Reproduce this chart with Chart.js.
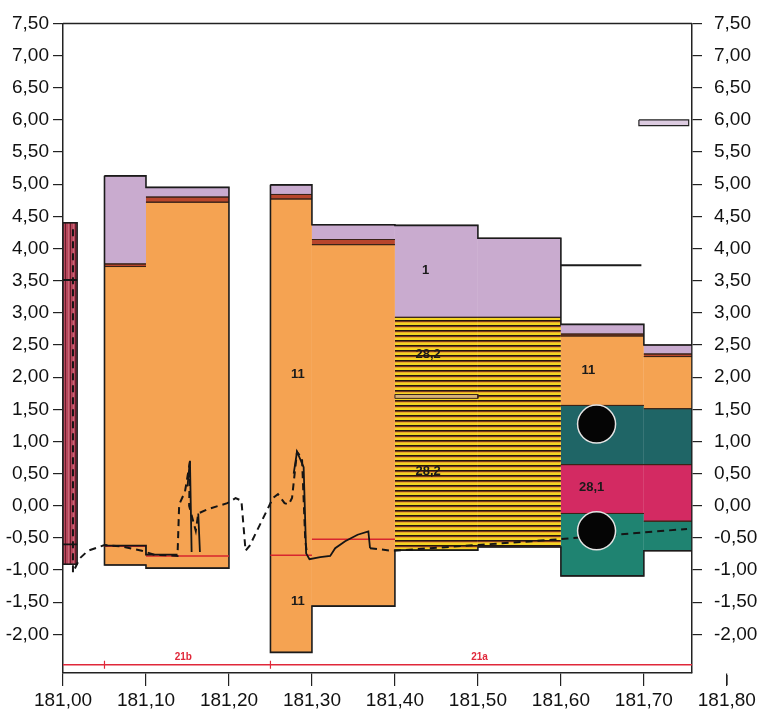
<!DOCTYPE html>
<html>
<head>
<meta charset="utf-8">
<script src="https://cdn.jsdelivr.net/npm/chart.js@4.4.1/dist/chart.umd.min.js"></script>
<style>
  html, body { margin: 0; padding: 0; background: #fff; }
  #wrap { width: 757px; height: 721px; }
</style>
</head>
<body>
<div id="wrap"><canvas id="profile"></canvas></div>
<script>
// chainage of each borehole column (km)
const colStart = [181.000, 181.050, 181.100, 181.250, 181.300, 181.400, 181.500, 181.600, 181.700];
const colEnd   = [181.017, 181.100, 181.200, 181.300, 181.400, 181.500, 181.600, 181.700, 181.758];

// layers per column: [top, bottom] in m, null = not present
const layerBrick = [[4.40, -0.91], null, null, null, null, null, null, null, null];
const layer1     = [null, [5.13, 3.76], [4.95, 4.80], [4.99, 4.84], [4.37, 4.14], [4.36, 2.93], [4.16, 2.93], [2.82, 2.67], [2.50, 2.36]];
const layerBand  = [null, [3.76, 3.72], [4.80, 4.72], [4.84, 4.77], [4.14, 4.06], null, null, [2.67, 2.64], [2.36, 2.32]];
const layer11    = [null, [3.72, -0.92], [4.72, -0.97], [4.77, -2.28], [4.06, -1.56], null, null, [2.64, 1.56], [2.32, 1.51]];
const layer282   = [null, null, null, null, null, [2.93, -0.69], [2.93, -0.64], null, null];
const layerGreen = [null, null, null, null, null, null, null, [1.56, 0.64], [1.51, 0.64]];
const layer281   = [null, null, null, null, null, null, null, [0.64, -0.12], [0.64, -0.24]];
const layerTeal  = [null, null, null, null, null, null, null, [-0.12, -1.09], [-0.24, -0.70]];

// small lens inside 28,2 and the box near 6 m
const lensX = [181.400, 181.500];
const lensY = [1.73, 1.67];
const boxX = [181.694, 181.754];
const boxY = [6.00, 5.91];

// level lines
const levelX = [181.600, 181.697];
const levelY = [3.74, 3.74];

const dashX = [181.012, 181.012, 181.020, 181.030, 181.050, 181.070, 181.095, 181.110, 181.138, 181.140, 181.147, 181.153, 181.152, 181.160,
               181.163, 181.175, 181.198, 181.208, 181.215, 181.220, 181.225, 181.253, 181.259, 181.267, 181.272, 181.276, 181.282, 181.288,
               181.292, 181.294, null, 181.370, 181.397, 181.589, 181.752];
const dashY = [4.30, -1.04, -0.82, -0.70, -0.61, -0.63, -0.70, -0.76, -0.78, 0.02, 0.22, 0.69, 0.00, -0.39,
               -0.12, -0.05, 0.04, 0.12, 0.08, -0.70, -0.62, 0.12, 0.18, 0.04, 0.02, 0.12, 0.84, 0.74,
               -0.55, -0.74, null, -0.66, -0.70, -0.53, -0.36];

const solidX = [181.000, 181.017, null, 181.000, 181.017, null, 181.050, 181.100, 181.100, 181.138, null, 181.150, 181.153, 181.155, null,
                181.163, 181.165, null, 181.278, 181.282, 181.290, 181.293, 181.297, 181.310, 181.322, 181.328, 181.340, 181.355, 181.368, 181.370];
const solidY = [3.51, 3.51, null, -0.60, -0.60, null, -0.62, -0.62, -0.76, -0.76, null, 0.30, 0.70, -0.72, null,
                -0.12, -0.72, null, 0.50, 0.84, 0.60, -0.74, -0.83, -0.80, -0.78, -0.66, -0.55, -0.45, -0.40, -0.66];

const redX = [181.050, 181.100, null, 181.100, 181.200, null, 181.250, 181.300, null, 181.300, 181.400];
const redY = [-0.63, -0.63, null, -0.78, -0.78, null, -0.77, -0.77, null, -0.52, -0.52];

// section line at the bottom
const sectionX = [181.000, 181.758];
const sectionY = [-2.47, -2.47];
const sectionMarks = [181.05, 181.25];
const sectionNames = ['21b', '21a'];
const sectionNameX = [181.145, 181.502];
const sectionNameY = -2.36;

// black sample dots
const dotX = [181.643, 181.643];
const dotY = [1.27, -0.39];

// layer labels
const labelText = ['1', '11', '11', '28,2', '28,2', '11', '28,1'];
const labelX = [181.437, 181.283, 181.283, 181.440, 181.440, 181.633, 181.637];
const labelY = [3.66, 2.04, -1.48, 2.36, 0.53, 2.11, 0.29];

const xTicks = [181.0, 181.1, 181.2, 181.3, 181.4, 181.5, 181.6, 181.7, 181.8];
const yTicks = [-2, -1.5, -1, -0.5, 0, 0.5, 1, 1.5, 2, 2.5, 3, 3.5, 4, 4.5, 5, 5.5, 6, 6.5, 7, 7.5];

// patterns
function hatch(base, rows, w, h) {
  const c = document.createElement('canvas');
  c.width = w; c.height = h;
  const g = c.getContext('2d');
  g.fillStyle = base; g.fillRect(0, 0, w, h);
  rows.forEach(r => { g.fillStyle = r[0]; g.fillRect(r[1], r[2], r[3], r[4]); });
  return g.createPattern(c, 'repeat');
}
const yellowStripes = hatch('#f4d422', [['#231510', 0, 0, 4, 1], ['#7a3a1c', 0, 1, 4, 1], ['#e9a92a', 0, 2, 4, 1]], 4, 5);
const brickStripes = hatch('#b6475b', [['#6d1b2c', 0, 0, 1, 4], ['#c76677', 3, 0, 1, 4]], 5, 4);

const layerStyle = [
  { spans: layerBrick, fill: brickStripes },
  { spans: layer1, fill: '#c9abcf' },
  { spans: layerBand, fill: '#b8462c' },
  { spans: layer11, fill: '#f5a352' },
  { spans: layer282, fill: yellowStripes },
  { spans: layerGreen, fill: '#1f6566' },
  { spans: layer281, fill: '#d32a62' },
  { spans: layerTeal, fill: '#1f8371' }
];

const pts = (xs, ys) => xs.map((x, i) => ({ x: x, y: ys[i] }));
const rect = (x0, x1, top, bot) => [
  { x: x0, y: top }, { x: x1, y: top }, { x: x1, y: bot }, { x: x0, y: bot }, { x: x0, y: top }
];
const gap = { x: null, y: null };

let datasets = [];
let edges = [];

// layer fills, and their top/bottom boundaries as one line set
layerStyle.forEach(l => {
  l.spans.forEach((s, i) => {
    if (!s) return;
    datasets.push({
      data: rect(colStart[i], colEnd[i], s[0], s[1]),
      fill: 'shape', backgroundColor: l.fill,
      borderWidth: 0, pointRadius: 0, order: 10
    });
    edges.push({ x: colStart[i], y: s[0] }, { x: colEnd[i], y: s[0] }, gap,
               { x: colStart[i], y: s[1] }, { x: colEnd[i], y: s[1] }, gap);
  });
});
datasets.push({ data: edges, fill: false, borderColor: '#3a2418', borderWidth: 1, pointRadius: 0, order: 4 });

// outer outline of each group of touching columns
const colTop = colStart.map((_, i) => Math.max(...layerStyle.filter(l => l.spans[i]).map(l => l.spans[i][0])));
const colBot = colStart.map((_, i) => Math.min(...layerStyle.filter(l => l.spans[i]).map(l => l.spans[i][1])));
let groups = [];
colStart.forEach((x, i) => {
  if (i > 0 && Math.abs(colEnd[i - 1] - x) < 1e-9) groups[groups.length - 1].push(i);
  else groups.push([i]);
});
groups.forEach(g => {
  let outline = [];
  g.forEach(i => { outline.push({ x: colStart[i], y: colTop[i] }, { x: colEnd[i], y: colTop[i] }); });
  g.slice().reverse().forEach(i => { outline.push({ x: colEnd[i], y: colBot[i] }, { x: colStart[i], y: colBot[i] }); });
  outline.push(outline[0]);
  datasets.push({ data: outline, fill: false, borderColor: '#1b1b1b', borderWidth: 1.6, pointRadius: 0, order: 3 });
});

datasets.push({ data: rect(lensX[0], lensX[1], lensY[0], lensY[1]), fill: 'shape', backgroundColor: '#d9b27a',
  borderColor: '#3a2418', borderWidth: 1, pointRadius: 0, order: 2 });
datasets.push({ data: rect(boxX[0], boxX[1], boxY[0], boxY[1]), fill: 'shape', backgroundColor: '#dccbe0',
  borderColor: '#222', borderWidth: 1.2, pointRadius: 0, order: 2 });
datasets.push({ data: pts(levelX, levelY), borderColor: '#1b1b1b', borderWidth: 2, pointRadius: 0, order: 2 });
datasets.push({ data: pts(redX, redY), borderColor: '#d8262e', borderWidth: 1.5, pointRadius: 0, order: 2 });
datasets.push({ data: pts(solidX, solidY), borderColor: '#151515', borderWidth: 1.8, pointRadius: 0, order: 1 });
datasets.push({ data: pts(dashX, dashY), borderColor: '#151515', borderWidth: 2, borderDash: [7, 5], pointRadius: 0, order: 1 });
datasets.push({ data: pts(sectionX, sectionY), borderColor: '#e0283a', borderWidth: 1.5, pointRadius: 0, order: 2 });
datasets.push({ type: 'scatter', data: sectionMarks.map(x => ({ x: x, y: sectionY[0] })), pointStyle: 'line', rotation: 90,
  pointRadius: 4, borderColor: '#e0283a', borderWidth: 1.2, order: 2 });
datasets.push({ type: 'scatter', data: pts(dotX, dotY), pointRadius: 19, backgroundColor: '#050505',
  borderColor: '#e4e4e4', borderWidth: 1.5, order: 0 });

const fmt = v => Number(v).toFixed(2).replace('.', ',');
const font = '"Liberation Sans", Arial, sans-serif';

const extras = {
  id: 'extras',
  afterDatasetsDraw(chart) {
    const { ctx, scales: { x, y } } = chart;
    ctx.save();
    ctx.textAlign = 'center';
    ctx.textBaseline = 'middle';
    ctx.font = 'bold 13px ' + font;
    ctx.fillStyle = '#1a1a1a';
    labelText.forEach((t, i) => ctx.fillText(t, x.getPixelForValue(labelX[i]), y.getPixelForValue(labelY[i])));
    ctx.font = 'bold 10px ' + font;
    ctx.fillStyle = '#e0283a';
    sectionNames.forEach((t, i) => ctx.fillText(t, x.getPixelForValue(sectionNameX[i]), y.getPixelForValue(sectionNameY)));
    ctx.restore();
  },
  afterDraw(chart) {
    const { ctx, chartArea: a, scales: { x } } = chart;
    ctx.save();
    ctx.strokeStyle = '#222';
    ctx.lineWidth = 1.5;
    ctx.beginPath();
    ctx.moveTo(a.left, a.top);
    ctx.lineTo(a.right, a.top);
    // lone tick for the last label, outside the frame
    const px = x.getPixelForValue(xTicks[xTicks.length - 1]);
    ctx.moveTo(px, a.bottom + 2);
    ctx.lineTo(px, a.bottom + 12);
    ctx.stroke();
    ctx.restore();
  }
};

const yAxis = (pos, width, pad) => ({
  type: 'linear', position: pos, min: -2.6, max: 7.5,
  afterBuildTicks: s => { s.ticks = yTicks.map(v => ({ value: v })); },
  afterFit: s => { s.width = width; },
  grid: { drawOnChartArea: false, color: '#222', tickLength: 10, lineWidth: 1.2 },
  border: { display: true, color: '#222', width: 1.5 },
  ticks: { color: '#111', padding: pad, font: { size: 19, family: font }, callback: v => fmt(v) }
});

new Chart(document.getElementById('profile'), {
  type: 'line',
  data: { datasets: datasets },
  plugins: [extras],
  options: {
    responsive: true,
    maintainAspectRatio: false,
    animation: false,
    events: [],
    layout: { padding: { top: 20, left: 0, right: 0, bottom: 0 } },
    plugins: { legend: { display: false }, tooltip: { enabled: false } },
    scales: {
      x: {
        type: 'linear', min: 181.0, max: 181.758,
        afterBuildTicks: s => { s.ticks = xTicks.map(v => ({ value: v })); },
        afterFit: s => { s.height = 48; s.paddingLeft = 0; s.paddingRight = 0; },
        grid: { drawOnChartArea: false, color: '#222', tickLength: 13, lineWidth: 1.2 },
        border: { display: true, color: '#222', width: 1.5 },
        ticks: { color: '#111', autoSkip: false, maxRotation: 0, padding: 3, font: { size: 19, family: font }, callback: v => fmt(v) }
      },
      y: yAxis('left', 63, 4),
      y2: yAxis('right', 65, 12)
    }
  }
});
</script>
</body>
</html>
